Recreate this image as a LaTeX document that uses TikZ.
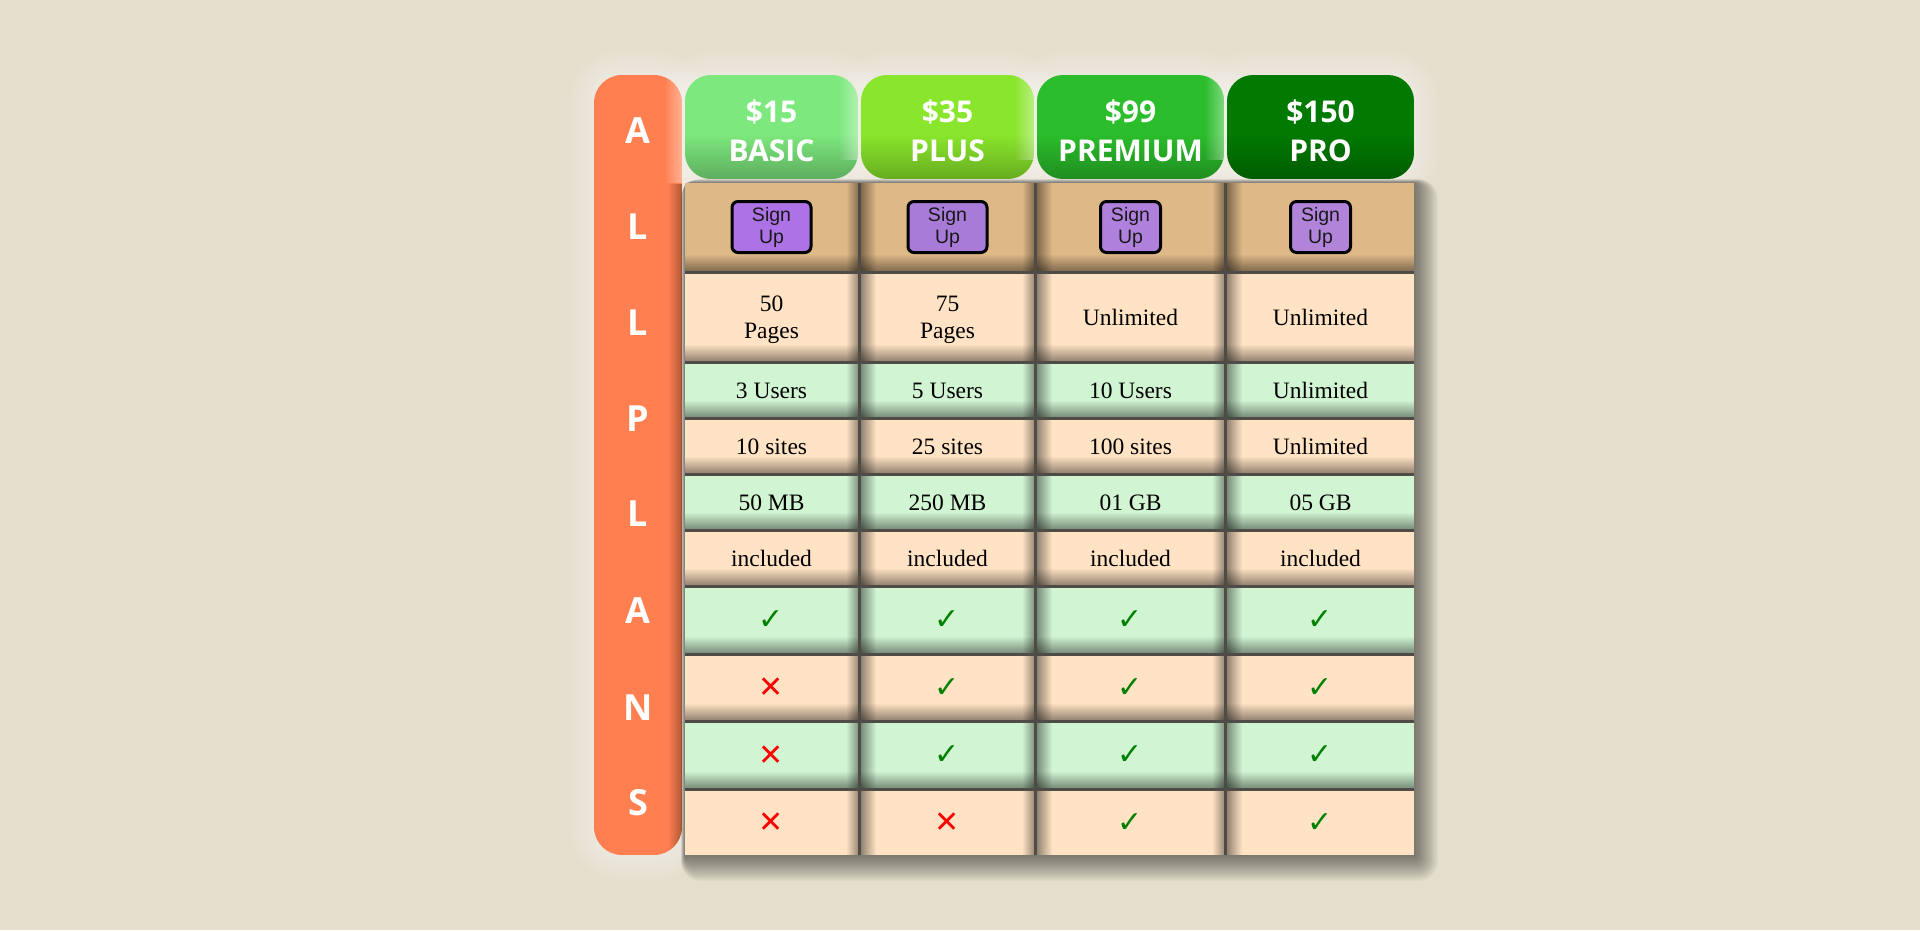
\documentclass[tikz,border=0pt]{standalone}
\usepackage{fontspec}
\setmainfont{Liberation Serif}
\newfontfamily\headfont{Open Sans}
\newfontfamily\btnfont{Liberation Sans}
\newfontfamily\symfont{DejaVu Sans}
\usetikzlibrary{fadings}
\tikzfading[name=fadeleft, left color=transparent!0, right color=transparent!100]
\tikzfading[name=faderight, left color=transparent!100, right color=transparent!0]
\tikzfading[name=fadedown, top color=transparent!100, bottom color=transparent!0]
\definecolor{bgc}{HTML}{E4DFCC}
\definecolor{coralc}{HTML}{FF7F50}
\definecolor{basicc}{HTML}{7DE87D}
\definecolor{plusc}{HTML}{8AE62C}
\definecolor{premc}{HTML}{2BBD2B}
\definecolor{proc}{HTML}{027A02}
\definecolor{burly}{HTML}{DEB887}
\definecolor{bisq}{HTML}{FFE3C4}
\definecolor{mint}{HTML}{D1F4D3}
\definecolor{gapc}{HTML}{4F4B46}
\definecolor{btnA}{HTML}{AD72E6}
\definecolor{btnB}{HTML}{A87BD8}
\definecolor{btnC}{HTML}{AF80DC}
\definecolor{btnD}{HTML}{B184D9}
\definecolor{okc}{HTML}{008000}
\definecolor{noc}{HTML}{FF0000}
\newcommand\cellbox[8][]{%
  \fill[#7] (#3,-#4) rectangle (#5,-#6);
  \node[celltext,#1] (#2) at ({(#3+#5)/2},{-(#4+#6)/2}) {#8};}
\newcommand\headbox[6]{%
  \begin{scope}
    \clip[rounded corners=26pt] (#2,-75) rectangle (#3,-179);
    \fill[#4] (#2,-75) rectangle (#3,-179);
    \fill[black,opacity=.25,path fading=fadedown] (#2,-135) rectangle (#3,-179);
    #6
  \end{scope}
  \node[headtext] (#1) at ({(#2+#3)/2},-130.5) {#5};}
\newcommand\okmark{{\color{okc}\symfont ✓}}
\newcommand\nomark{{\color{noc}\symfont ✕}}
\begin{document}
\begin{tikzpicture}[x=1pt,y=1pt,
  celltext/.style={font=\fontsize{23.5}{27}\selectfont, align=center, inner sep=0pt, text=black},
  headtext/.style={font=\headfont\bfseries\fontsize{30}{39}\selectfont, align=center, inner sep=0pt, text=white},
  bartext/.style={font=\headfont\bfseries\fontsize{36}{40}\selectfont, inner sep=0pt, text=white, anchor=base},
  btn/.style={draw=black, line width=3pt, rounded corners=6pt, inner sep=0pt, minimum height=51pt,
     font=\btnfont\fontsize{19.5}{22}\selectfont, align=center, text=black!90},
  marktext/.style={font=\fontsize{30}{32}\selectfont, inner sep=0pt}]
\fill[bgc] (0,0) rectangle (1920,-930);
\useasboundingbox (0,0) rectangle (1920,-930);
% white halos
\foreach \k in {1,...,8}{
  \pgfmathsetmacro\rr{26+3*\k}
  \fill[white,opacity=.06,rounded corners=\rr pt] ({594-3*\k},{-75+3*\k}) rectangle ({682+3*\k},{-855-3*\k});
  \foreach \xa/\xb in {685/858,861/1034,1037/1224,1227/1414}{
    \fill[white,opacity=.06,rounded corners=\rr pt] ({\xa-3*\k},{-75+3*\k}) rectangle ({\xb+3*\k},{-179-3*\k});
  }
}
% orange bar
\begin{scope}
  \clip[rounded corners=28pt] (594,-75) rectangle (682,-855);
  \fill[coralc] (594,-75) rectangle (682,-855);
  \fill[white,opacity=.4,path fading=faderight] (664,-75) rectangle (682,-183);
  \fill[black,opacity=.32,path fading=faderight] (668,-183) rectangle (682,-855);
\end{scope}
\node[bartext] (bA1) at (638,-143.5) {A};
\node[bartext] (bL1) at (638,-239) {L};
\node[bartext] (bL2) at (638,-335.5) {L};
\node[bartext] (bP) at (638,-431.5) {P};
\node[bartext] (bL3) at (638,-526.5) {L};
\node[bartext] (bA2) at (638,-623.5) {A};
\node[bartext] (bN) at (638,-720.5) {N};
\node[bartext] (bS) at (638,-815.5) {S};
% headers
\headbox{hBasic}{685}{858}{basicc}{\$15\\BASIC}{\fill[white,opacity=.4,path fading=faderight] (838,-75) rectangle (858,-160);}
\headbox{hPlus}{861}{1034}{plusc}{\$35\\PLUS}{\fill[white,opacity=.4,path fading=faderight] (1014,-75) rectangle (1034,-160);}
\headbox{hPrem}{1037}{1224}{premc}{\$99\\PREMIUM}{\fill[white,opacity=.4,path fading=faderight] (1204,-75) rectangle (1224,-160);}
\headbox{hPro}{1227}{1414}{proc}{\$150\\PRO}{}
% table outer shadow
\foreach \k in {1,...,20}{
  \fill[black,opacity=.028,rounded corners=\k pt] ({685-0.2*\k},{-183+0.2*\k}) rectangle ({1414+1.2*\k},{-855-1.3*\k});
}
\fill[gapc] (685,-183) rectangle (1414,-855);
% row 1 : sign up
\cellbox{c11}{685}{183}{858}{271}{burly}{}
\cellbox{c12}{861}{183}{1034}{271}{burly}{}
\cellbox{c13}{1037}{183}{1224}{271}{burly}{}
\cellbox{c14}{1227}{183}{1414}{271}{burly}{}
% row 2
\cellbox[yshift=-2pt]{c21}{685}{274}{858}{361}{bisq}{50\\Pages}
\cellbox[yshift=-2pt]{c22}{861}{274}{1034}{361}{bisq}{75\\Pages}
\cellbox{c23}{1037}{274}{1224}{361}{bisq}{Unlimited}
\cellbox{c24}{1227}{274}{1414}{361}{bisq}{Unlimited}
% row 3
\cellbox{c31}{685}{364}{858}{417}{mint}{3 Users}
\cellbox{c32}{861}{364}{1034}{417}{mint}{5 Users}
\cellbox{c33}{1037}{364}{1224}{417}{mint}{10 Users}
\cellbox{c34}{1227}{364}{1414}{417}{mint}{Unlimited}
% row 4
\cellbox{c41}{685}{420}{858}{473}{bisq}{10 sites}
\cellbox{c42}{861}{420}{1034}{473}{bisq}{25 sites}
\cellbox{c43}{1037}{420}{1224}{473}{bisq}{100 sites}
\cellbox{c44}{1227}{420}{1414}{473}{bisq}{Unlimited}
% row 5
\cellbox{c51}{685}{476}{858}{529}{mint}{50 MB}
\cellbox{c52}{861}{476}{1034}{529}{mint}{250 MB}
\cellbox{c53}{1037}{476}{1224}{529}{mint}{01 GB}
\cellbox{c54}{1227}{476}{1414}{529}{mint}{05 GB}
% row 6
\cellbox{c61}{685}{532}{858}{585}{bisq}{included}
\cellbox{c62}{861}{532}{1034}{585}{bisq}{included}
\cellbox{c63}{1037}{532}{1224}{585}{bisq}{included}
\cellbox{c64}{1227}{532}{1414}{585}{bisq}{included}
% row 7
\cellbox{c71}{685}{588}{858}{653}{mint}{}
\cellbox{c72}{861}{588}{1034}{653}{mint}{}
\cellbox{c73}{1037}{588}{1224}{653}{mint}{}
\cellbox{c74}{1227}{588}{1414}{653}{mint}{}
% row 8
\cellbox{c81}{685}{656}{858}{720}{bisq}{}
\cellbox{c82}{861}{656}{1034}{720}{bisq}{}
\cellbox{c83}{1037}{656}{1224}{720}{bisq}{}
\cellbox{c84}{1227}{656}{1414}{720}{bisq}{}
% row 9
\cellbox{c91}{685}{723}{858}{788}{mint}{}
\cellbox{c92}{861}{723}{1034}{788}{mint}{}
\cellbox{c93}{1037}{723}{1224}{788}{mint}{}
\cellbox{c94}{1227}{723}{1414}{788}{mint}{}
% row 10
\cellbox{c101}{685}{791}{858}{855}{bisq}{}
\cellbox{c102}{861}{791}{1034}{855}{bisq}{}
\cellbox{c103}{1037}{791}{1224}{855}{bisq}{}
\cellbox{c104}{1227}{791}{1414}{855}{bisq}{}
% inner cell shading
\foreach \xa/\xb in {685/858,861/1034,1037/1224,1227/1414}{
  \foreach \ya/\yb in {183/271,274/361,364/417,420/473,476/529,532/585,588/653,656/720,723/788,791/855}{
    \ifnum\yb<855 \fill[black,opacity=.42,path fading=fadedown] (\xa,{-\yb+17}) rectangle (\xb,-\yb); \fi
    \ifnum\xa>685 \fill[black,opacity=.42,path fading=fadeleft] (\xa,-\ya) rectangle ({\xa+15},-\yb); \fi
    \ifnum\xb<1414 \fill[black,opacity=.38,path fading=faderight] ({\xb-12},-\ya) rectangle (\xb,-\yb); \fi
  }
}
% sign up buttons
\node[btn, fill=btnA, minimum width=79pt] (s1) at (c11) {Sign\\Up};
\node[btn, fill=btnB, minimum width=79pt] (s2) at (c12) {Sign\\Up};
\node[btn, fill=btnC, minimum width=60pt] (s3) at (c13) {Sign\\Up};
\node[btn, fill=btnD, minimum width=60pt] (s4) at (c14) {Sign\\Up};
% marks
\node[marktext] (m71) at (c71) {\okmark};
\node[marktext] (m72) at (c72) {\okmark};
\node[marktext] (m73) at (c73) {\okmark};
\node[marktext] (m74) at (c74) {\okmark};
\node[marktext] (m81) at (c81) {\nomark};
\node[marktext] (m82) at (c82) {\okmark};
\node[marktext] (m83) at (c83) {\okmark};
\node[marktext] (m84) at (c84) {\okmark};
\node[marktext] (m91) at (c91) {\nomark};
\node[marktext] (m92) at (c92) {\okmark};
\node[marktext] (m93) at (c93) {\okmark};
\node[marktext] (m94) at (c94) {\okmark};
\node[marktext] (m101) at (c101) {\nomark};
\node[marktext] (m102) at (c102) {\nomark};
\node[marktext] (m103) at (c103) {\okmark};
\node[marktext] (m104) at (c104) {\okmark};
\end{tikzpicture}
\end{document}
